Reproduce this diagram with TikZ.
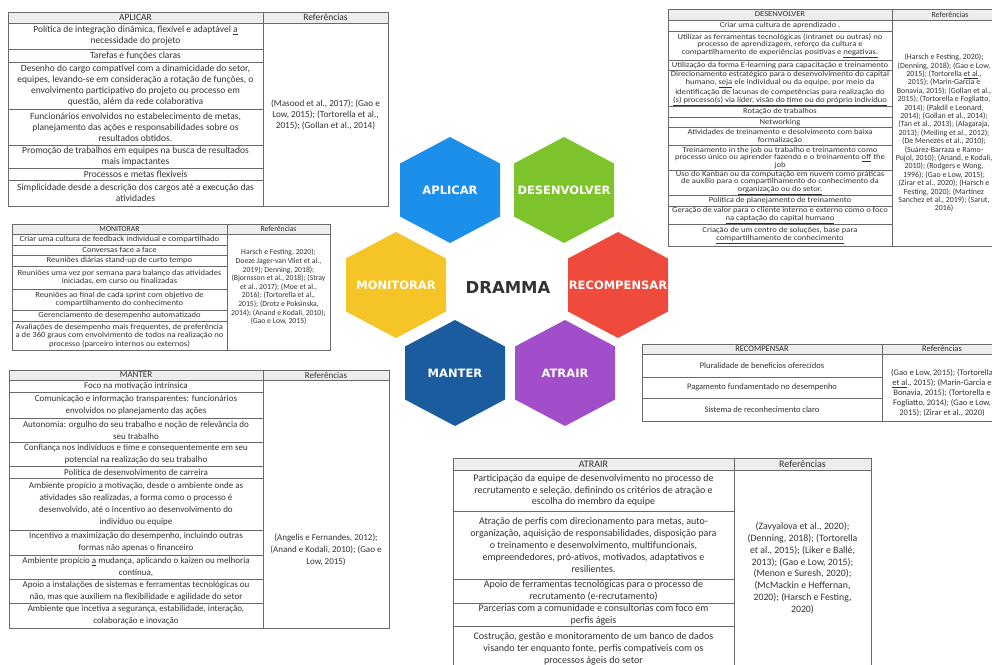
\documentclass[tikz,border=0pt]{standalone}
\usepackage{fontspec}
\setmainfont{Carlito}
\newfontfamily\widefont{Carlito}[FakeStretch=1.1]
\newfontfamily\widerfont{Carlito}[FakeStretch=1.13]
\newfontfamily\hexfont{DejaVu Sans}
\definecolor{cBlue}{HTML}{1C8FEA}
\definecolor{cGreen}{HTML}{7DC42C}
\definecolor{cYellow}{HTML}{F5C527}
\definecolor{cRed}{HTML}{EF4B3C}
\definecolor{cNavy}{HTML}{1B5C9E}
\definecolor{cPurple}{HTML}{A24ECB}
\definecolor{ink}{HTML}{333333}
\definecolor{rule}{HTML}{6A6A6A}
\definecolor{headbg}{HTML}{EDEDED}

% hexagon with a name and a centred label: name, x, y, colour, text
\newcommand\hexcell[5]{%
  \fill[#4] (#2,#3-53) -- (#2+50,#3-26.5) -- (#2+50,#3+26.5) -- (#2,#3+53)
    -- (#2-50,#3+26.5) -- (#2-50,#3-26.5) -- cycle;
  \node[hexlabel] (#1) at (#2,#3) {#5};}

\begin{document}
\begin{tikzpicture}[x=1pt,y=-1pt,
  tbl/.style={draw=rule, line width=0.7pt},
  headrow/.style={tbl, fill=headbg},
  cell/.style={inner sep=0pt, align=center, text=ink},
  fA/.style={cell, font=\fontsize{9.5}{11}\selectfont},
  fAr/.style={cell, font=\fontsize{9.2}{11}\selectfont},
  fD/.style={cell, font=\widerfont\fontsize{7.6}{7.9}\selectfont},
  fDr/.style={cell, font=\fontsize{7.9}{8.4}\selectfont},
  fM/.style={cell, font=\widefont\fontsize{7.8}{8.5}\selectfont},
  fMr/.style={cell, font=\fontsize{7.7}{8.6}\selectfont},
  fR/.style={cell, font=\fontsize{8.5}{10}\selectfont},
  fK/.style={cell, font=\fontsize{9}{12}\selectfont},
  fT/.style={cell, font=\fontsize{10}{11.8}\selectfont},
  fTr/.style={cell, font=\fontsize{9.8}{11.8}\selectfont},
  hexlabel/.style={inner sep=0pt, text=white, font=\hexfont\bfseries\fontsize{11.5}{12}\selectfont},
  title/.style={inner sep=0pt, text=ink, font=\hexfont\bfseries\fontsize{16.5}{18}\selectfont}]
\useasboundingbox (0,0) rectangle (992,664);
\clip (0,0) rectangle (992,664);
\fill[white] (0,0) rectangle (992,664);

% ---------------- APLICAR table
\filldraw[headrow] (8,12) rectangle (388,23);
\draw[tbl] (8,23) rectangle (388,206);
\draw[tbl] (263,12) -- (263,206);
\foreach \y in {49,62,109,145,168,180} \draw[tbl] (8,\y) -- (263,\y);
\node[fA] (aplH) at (135.5,17.5) {APLICAR};
\node[fA] (aplRH) at (325.5,17.5) {Referências};
\node[fA] (apl1) at (135.5,36) {Política de integração dinâmica, flexível e adaptável \underline{a}\\necessidade do projeto};
\node[fA] (apl2) at (135.5,55.5) {Tarefas e funções claras};
\node[fA] (apl3) at (135.5,85.5) {Desenho do cargo compatível com a dinamicidade do setor,\\equipes, levando-se em consideração a rotação de funções, o\\envolvimento participativo do projeto ou processo em\\questão, além da rede colaborativa};
\node[fA] (apl4) at (135.5,127) {Funcionários envolvidos no estabelecimento de metas,\\planejamento das ações e responsabilidades sobre os\\resultados obtidos.};
\node[fA] (apl5) at (135.5,156.5) {Promoção de trabalhos em equipes na busca de resultados\\mais impactantes};
\node[fA] (apl6) at (135.5,174) {Processos e metas flexíveis};
\node[fA] (apl7) at (135.5,193) {Simplicidade desde a descrição dos cargos até a execução das\\atividades};
\node[fAr] (aplRef) at (325.5,114.5) {(Masood et al., 2017); (Gao e\\Low, 2015); (Tortorella et al.,\\2015); (Gollan et al., 2014)};

% ---------------- DESENVOLVER table
\filldraw[headrow] (668,9) rectangle (1010,20);
\draw[tbl] (668,20) rectangle (1010,246);
\draw[tbl] (892,9) -- (892,246);
\foreach \y in {31,60,70,106,117,127,145,170,195,206,224} \draw[tbl] (668,\y) -- (892,\y);
\node[fD] (desH) at (780,14.5) {DESENVOLVER};
\node[fDr] (desRH) at (950,14.5) {Referências};
\node[fD] (des1) at (780,25.5) {Criar uma cultura de aprendizado .};
\node[fD] (des2) at (780,45.8) {Utilizar as ferramentas tecnológicas (intranet ou outras) no\\processo de aprendizagem, reforço da cultura e\\compartilhamento de experiências positivas e \underline{negativas.}};
\node[fD] (des3) at (780,65.2) {Utilização da forma E-learning para capacitação e treinamento};
\node[fD] (des4) at (780,88.6) {Direcionamento estratégico para o desenvolvimento do capital\\humano, \underline{seja} ele individual ou da equipe, por meio da\\identificação de lacunas de competências para realização do\\\underline{(s) processo(s) via líder, visão do time ou do próprio indivíduo}};
\node[fD] (des5) at (780,111.7) {Rotação de trabalhos};
\node[fD] (des6) at (780,122.2) {Networking};
\node[fD] (des7) at (780,136.3) {Atividades de treinamento e desolvimento com baixa\\formalização};
\node[fD] (des8) at (780,158) {Treinamento in the job ou trabalho e treinamento como\\processo único ou aprender fazendo e o treinamento \underline{off} the\\job};
\node[fD] (des9) at (780,183) {Uso do Kanban ou da computação em nuvem como práticas\\de auxílio para o compartilhamento do conhecimento da\\\underline{organização ou do setor.}};
\node[fD] (des10) at (780,200.7) {Política de planejamento de treinamento};
\node[fD] (des11) at (780,215.3) {Geração de valor para o cliente interno e externo como o foco\\\underline{na captação do capital humano}};
\node[fD] (des12) at (780,235.3) {Criação de um centro de soluções, base para\\\underline{compartilhamento de conhecimento}};
\node[fDr] (desRef) at (944,133) {(Harsch e Festing, 2020);\\(Denning, 2018); (Gao e Low,\\2015); (Tortorella \underline{et al}.,\\2015); (Marin-Garcia e\\Bonavia, 2015); (Gollan et al.,\\2015); (Tortorella e Fogliatto,\\2014); (Pakdil e Leonard,\\2014); (Gollan et al., 2014);\\(Tan et al., 2013); (Alagaraja,\\2013); (Meiling et al., 2012);\\(De Menezes et al., 2010);\\(Suárez-Barraza e Ramo-\\Pujol, 2010); (Anand, e Kodali,\\2010); (Rodgers e Wong,\\1996); (Gao e Low, 2015);\\(Zirar et al., 2020); (Harsch e\\Festing, 2020); (Martinez\\Sanchez et al., 2019); (Sarut,\\2016)};

% ---------------- MONITORAR table
\filldraw[headrow] (12,224) rectangle (330,234);
\draw[tbl] (12,234) rectangle (330,350);
\draw[tbl] (227,224) -- (227,350);
\foreach \y in {245,255,266,289,310,321} \draw[tbl] (12,\y) -- (227,\y);
\node[fMr] (monH) at (119.5,229) {MONITORAR};
\node[fMr] (monRH) at (278.5,229) {Referências};
\node[fM] (mon1) at (119.5,239.5) {Criar uma cultura de feedback individual e compartilhado};
\node[fM] (mon2) at (119.5,250) {Conversas face a face};
\node[fM] (mon3) at (119.5,260.5) {Reuniões diárias stand-up de curto tempo};
\node[fM] (mon4) at (119.5,277.5) {Reuniões uma vez por semana para balanço das atividades\\iniciadas, em curso ou finalizadas};
\node[fM] (mon5) at (119.5,299.5) {Reuniões ao final de cada sprint com objetivo de\\compartilhamento do conhecimento};
\node[fM] (mon6) at (119.5,315.5) {Gerenciamento de desempenho automatizado};
\node[fM] (mon7) at (119.5,335.5) {Avaliações de desempenho mais frequentes, de preferência\\a de 360 graus com envolvimento de todos na realização no\\processo (parceiro internos ou externos)};
\node[fMr] (monRef) at (278.5,287) {Harsch e Festing, 2020);\\Doeze Jager-van Vliet et al.,\\2019); Denning, 2018);\\(Bjornsson et al., 2018); (Stray\\et al., 2017); (Moe et al.,\\2016); (Tortorella et al.,\\2015); (Drotz e Poksinska,\\2014); (Anand e Kodali, 2010);\\(Gao e Low, 2015)};

% ---------------- RECOMPENSAR table
\filldraw[headrow] (642,344) rectangle (1010,354);
\draw[tbl] (642,354) rectangle (1010,421);
\draw[tbl] (882,344) -- (882,421);
\foreach \y in {377,398} \draw[tbl] (642,\y) -- (882,\y);
\node[fR] (recH) at (762,349) {RECOMPENSAR};
\node[fR] (recRH) at (942,349) {Referências};
\node[fR] (rec1) at (762,365.5) {Pluralidade de beneficios oferecidos};
\node[fR] (rec2) at (762,387.5) {Pagamento fundamentado no desempenho};
\node[fR] (rec3) at (762,409.5) {Sistema de reconhecimento claro};
\node[fR] (recRef) at (942,393) {(Gao e Low, 2015); (Tortorella\\\underline{et al}., 2015); (Marin-Garcia e\\Bonavia, 2015); (Tortorella e\\Fogliatto, 2014); (Gao e Low,\\2015); (Zirar et al., 2020)};

% ---------------- MANTER table
\filldraw[headrow] (9,370) rectangle (389,380);
\draw[tbl] (9,380) rectangle (389,628);
\draw[tbl] (263,370) -- (263,628);
\foreach \y in {392,418,442,466,478,530,555,579,603} \draw[tbl] (9,\y) -- (263,\y);
\node[fK] (manH) at (136,375) {MANTER};
\node[fK] (manRH) at (326,375) {Referências};
\node[fK] (man1) at (136,386) {Foco na motivação intrínsica};
\node[fK] (man2) at (136,405) {Comunicação e informação transparentes: funcionários\\envolvidos no planejamento das ações};
\node[fK] (man3) at (136,430) {Autonomia: orgulho do seu trabalho e noção de relevância do\\seu trabalho};
\node[fK] (man4) at (136,454) {Confiança nos indivíduos e time e consequentemente em seu\\potencial na realização do seu trabalho};
\node[fK] (man5) at (136,472) {Política de desenvolvimento de carreira};
\node[fK] (man6) at (136,504) {Ambiente propício \underline{a} motivação, desde o ambiente onde as\\atividades são realizadas, a forma como o processo é\\desenvolvido, até o incentivo ao desenvolvimento do\\indivíduo ou equipe};
\node[fK] (man7) at (136,542.5) {Incentivo a maximização do desempenho, incluindo outras\\formas não apenas o financeiro};
\node[fK] (man8) at (136,567) {Ambiente propício \underline{a} mudança, aplicando o kaizen ou melhoria\\contínua,};
\node[fK] (man9) at (136,591) {Apoio a instalações de sistemas e ferramentas tecnológicas ou\\não, mas que auxiliem na flexibilidade e agilidade do setor};
\node[fK] (man10) at (136,615.5) {Ambiente que incetiva a segurança, estabilidade, interação,\\colaboração e inovação};
\node[fK] (manRef) at (326,550) {(Angelis e Fernandes, 2012);\\(Anand e Kodali, 2010); (Gao e\\Low, 2015)};

% ---------------- ATRAIR table
\filldraw[headrow] (453,458) rectangle (871,470);
\draw[tbl] (453,470) rectangle (871,672);
\draw[tbl] (734,458) -- (734,672);
\foreach \y in {511,579,603,626} \draw[tbl] (453,\y) -- (734,\y);
\node[fT] (atrH) at (593.5,464) {ATRAIR};
\node[fT] (atrRH) at (802.5,464) {Referências};
\node[fT] (atr1) at (593.5,490.5) {Participação da equipe de desenvolvimento no processo de\\recrutamento e seleção, definindo os critérios de atração e\\escolha do membro da equipe};
\node[fT] (atr2) at (593.5,545) {Atração de perfis com direcionamento para metas, auto-\\organização, aquisição de responsabilidades, disposição para\\o treinamento e desenvolvimento, multifuncionais,\\empreendedores, pró-ativos, motivados, adaptativos e\\resilientes.};
\node[fT] (atr3) at (593.5,591) {Apoio de ferramentas tecnológicas para o processo de\\recrutamento (e-recrutamento)};
\node[fT] (atr4) at (593.5,614.5) {Parcerias com a comunidade e consultorias com foco em\\perfis ágeis};
\node[fT] (atr5) at (593.5,649) {Costrução, gestão e monitoramento de um banco de dados\\visando ter enquanto fonte, perfis compatíveis com os\\processos ágeis do setor};
\node[fTr] (atrRef) at (802.5,568) {(Zavyalova et al., 2020);\\(Denning, 2018); (Tortorella\\et al., 2015); (Liker e Ballé,\\2013); (Gao e Low, 2015);\\(Menon e Suresh, 2020);\\(McMackin e Heffernan,\\2020); (Harsch e Festing,\\2020)};

% ---------------- DRAMMA honeycomb
\hexcell{hApl}{450}{190}{cBlue}{APLICAR}
\hexcell{hDes}{564}{190}{cGreen}{DESENVOLVER}
\hexcell{hMon}{396}{285}{cYellow}{MONITORAR}
\hexcell{hRec}{618}{285}{cRed}{RECOMPENSAR}
\hexcell{hMan}{455}{373}{cNavy}{MANTER}
\hexcell{hAtr}{565}{373}{cPurple}{ATRAIR}
\node[title] (dramma) at (508,287) {DRAMMA};
\end{tikzpicture}
\end{document}
